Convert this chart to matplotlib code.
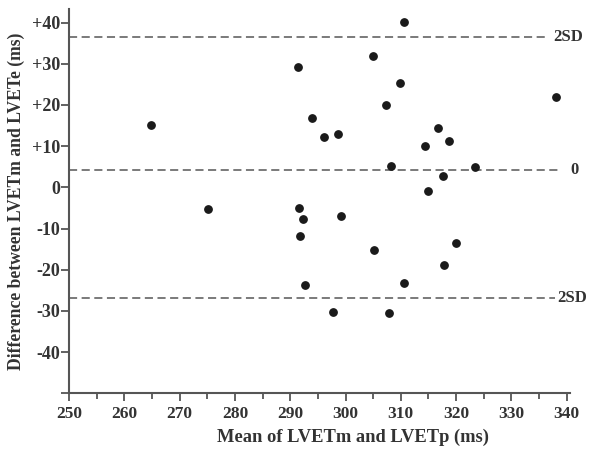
import matplotlib
matplotlib.use('Agg')
import matplotlib.pyplot as plt
from matplotlib.ticker import MultipleLocator

# mean of LVETm and LVETp (ms)
means = [264.9, 275.2, 291.4, 291.6, 310.5, 305.0, 309.8, 338.0, 307.4, 293.9,
         296.2, 298.7, 316.8, 314.4, 318.8, 308.3, 323.5, 317.7, 315.0, 292.4,
         299.2, 291.8, 305.2, 319.9, 317.9, 310.6, 292.6, 297.7, 307.9]
# difference between LVETm and LVETe (ms)
diffs = [15.2, -5.2, 29.1, -4.9, 40.2, 32.0, 25.3, 21.9, 20.1, 16.9,
         12.3, 12.9, 14.5, 10.1, 11.2, 5.3, 4.9, 2.7, -1.0, -7.8,
         -7.0, -11.7, -15.3, -13.5, -18.8, -23.2, -23.8, -30.3, -30.6]

mean_diff = 4.1
upper_sd = 36.6
lower_sd = -26.8
line_levels = [upper_sd, mean_diff, lower_sd]
line_labels = ['2SD', '0', '2SD']

y_ticks = [-50, -40, -30, -20, -10, 0, 10, 20, 30, 40]
y_tick_labels = ['', '-40', '-30', '-20', '-10', '0', '+10', '+20', '+30', '+40']
x_ticks = [250, 260, 270, 280, 290, 300, 310, 320, 330, 340]

plt.rcParams['font.family'] = ['Liberation Serif', 'DejaVu Serif']
plt.rcParams['font.weight'] = 'bold'

fig = plt.figure(figsize=(5.96, 4.49), dpi=100)
ax = fig.add_axes([0.1158, 0.124, 0.8406, 0.856])

axis_col = '#555555'
text_col = '#333333'

ax.scatter(means, diffs, s=28, color='#1a1a1a', zorder=3)

# dashed reference lines with their labels at the right end
line_ends = [336.8, 339.0, 337.8]
label_x = [337.5, 340.6, 338.3]
for yv, lab, xe, xl in zip(line_levels, line_labels, line_ends, label_x):
    ax.plot([250, xe], [yv, yv], color='#707070', lw=1.3,
            dashes=(4.5, 2.5), zorder=2, clip_on=False)
    ax.text(xl, yv, lab, va='center', ha='left', fontsize=12,
            color=text_col)

ax.set_xlim(250, 340.6)
ax.set_ylim(-50, 43.3)

ax.set_yticks(y_ticks)
ax.set_yticklabels(y_tick_labels)
ax.set_xticks(x_ticks)
ax.xaxis.set_minor_locator(MultipleLocator(5))

for s in ['top', 'right']:
    ax.spines[s].set_visible(False)
for s in ['left', 'bottom']:
    ax.spines[s].set_color(axis_col)
    ax.spines[s].set_linewidth(1.5)

ax.tick_params(axis='both', which='major', direction='out', length=6,
               width=1.3, color=axis_col, labelcolor=text_col)
ax.tick_params(axis='x', which='minor', direction='out', length=4,
               width=1.3, color=axis_col)
ax.tick_params(axis='y', labelsize=13, pad=0.5)
ax.tick_params(axis='x', labelsize=12.5, pad=3)

ax.set_xlabel('Mean of LVETm and LVETp (ms)', fontsize=13.3,
              color=text_col, fontweight='bold')
ax.xaxis.set_label_coords(0.567, -0.093)
ax.set_ylabel('Difference between LVETm and LVETe (ms)', fontsize=12.7,
              color=text_col, labelpad=5, fontweight='bold')

fig.savefig('out.png', dpi=100)
